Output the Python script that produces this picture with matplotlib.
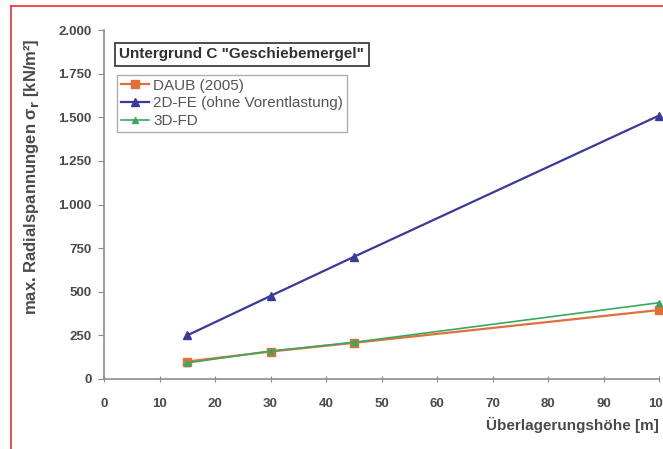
"""Max. radial stress vs. overburden height, subsoil C."""

import matplotlib.pyplot as plt
from matplotlib.ticker import FuncFormatter, MultipleLocator

plt.rcParams["font.family"] = ["Liberation Sans", "DejaVu Sans"]

# overburden heights [m]
heights = [15, 30, 45, 100]

# max. radial stress [kN/m²]
daub_2005 = [100, 157, 207, 395]
fe_2d = [250, 476, 700, 1510]
fd_3d = [92, 160, 210, 437]

AX_COL = "#8c8c8c"
TXT_COL = "#4a4a4a"


def de_thousands(v, _pos):
    return f"{int(round(v)):,}".replace(",", ".")


fig = plt.figure(figsize=(6.63, 4.49), dpi=100)
ax = fig.add_axes([0.157, 0.156, 0.837, 0.777])

ax.plot(heights, daub_2005, color="#e0703a", lw=1.6, marker="s", ms=5.5,
        label="DAUB (2005)", clip_on=False, zorder=3)
ax.plot(heights, fe_2d, color="#3a3a9a", lw=1.6, marker="^", ms=5.5,
        label="2D-FE (ohne Vorentlastung)", clip_on=False, zorder=3)
ax.plot(heights, fd_3d, color="#3aa860", lw=1.2, marker="^", ms=4,
        label="3D-FD", clip_on=False, zorder=4)

ax.set_xlim(0, 100)
ax.set_ylim(0, 2000)
ax.xaxis.set_major_locator(MultipleLocator(10))
ax.yaxis.set_major_locator(MultipleLocator(250))
ax.yaxis.set_major_formatter(FuncFormatter(de_thousands))

for side in ("top", "right"):
    ax.spines[side].set_visible(False)
for side in ("left", "bottom"):
    ax.spines[side].set_color(AX_COL)
    ax.spines[side].set_linewidth(1.2)

ax.tick_params(axis="y", direction="out", length=4, color=AX_COL,
               labelcolor=TXT_COL, labelsize=9.5, pad=5)
ax.tick_params(axis="x", direction="inout", length=5, color=AX_COL,
               labelcolor=TXT_COL, labelsize=9.5, pad=11)
for lbl in ax.get_xticklabels() + ax.get_yticklabels():
    lbl.set_fontweight("bold")

ax.set_xlabel("Überlagerungshöhe [m]", loc="right", fontsize=11,
              fontweight="bold", color=TXT_COL, labelpad=5)
fig.text(0.047, 0.606, "max. Radialspannungen σ$_\\mathbf{r}$ [kN/m²]", rotation=90,
         ha="center", va="center", fontsize=12, fontweight="bold", color=TXT_COL)

# subsoil caption box
fig.text(0.180, 0.879, 'Untergrund C "Geschiebemergel"', fontsize=11,
         fontweight="bold", color="#303030", ha="left", va="center",
         bbox=dict(boxstyle="square,pad=0.3", fc="white", ec="#404040", lw=1.3))

leg = ax.legend(loc="upper left", bbox_to_anchor=(0.024, 0.872), fontsize=11,
                frameon=True, fancybox=False, edgecolor="#9a9a9a",
                handlelength=1.8, handletextpad=0.3, borderpad=0.25,
                labelspacing=0.25, borderaxespad=0)
leg.get_frame().set_linewidth(1.0)
for t in leg.get_texts():
    t.set_color("#555555")

# red frame along the top and left edge
fig.add_artist(plt.Line2D([0.016, 1.0], [0.987, 0.987], color="#e83030", lw=1.2))
fig.add_artist(plt.Line2D([0.016, 0.016], [0.0, 0.987], color="#e83030", lw=1.2))

fig.savefig("out.png", dpi=100)
